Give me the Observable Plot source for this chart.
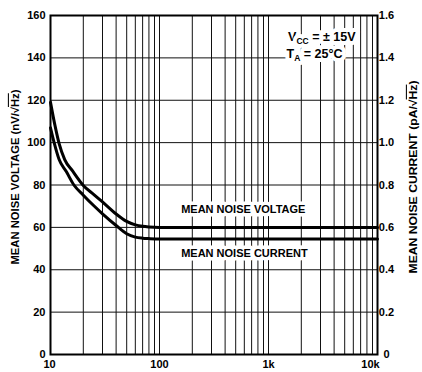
<!DOCTYPE html>
<html>
<head>
<meta charset="utf-8">
<script src="https://cdn.jsdelivr.net/npm/d3@7"></script>
<script src="https://cdn.jsdelivr.net/npm/@observablehq/plot@0.6"></script>
<style>
  html, body { margin: 0; padding: 0; background: #fff; }
</style>
</head>
<body>
<div id="chart"></div>
<script>
// Mean noise voltage (nV/√Hz) vs frequency (Hz)
const freqV = [10, 11, 12, 13.5, 16, 20, 25, 30, 40, 50, 60, 70, 80, 100, 1000, 10000];
const voltage = [119, 108, 99.5, 92, 86.5, 79.8, 75.5, 72, 66.3, 62.8, 61.2, 60.5, 60.2, 60, 60, 60];
// Mean noise current (pA/√Hz), expressed in left-axis units (x100)
const freqC = [10, 10.8, 12, 14, 16.4, 20, 25, 30, 40, 50, 60, 70, 80, 100, 1000, 10000];
const current = [107, 100, 92, 86.2, 80, 75.2, 70.2, 66.4, 60.9, 57, 55.4, 54.9, 54.7, 54.5, 54.5, 54.5];

const xGrid = [10,20,30,40,50,60,70,80,90,100,200,300,400,500,600,700,800,900,1000,2000,3000,4000,5000,6000,7000,8000,9000,10000];
const yTicks = [0,20,40,60,80,100,120,140,160];
const xLabelsMid = [100, 1000];
const xLabelText = {10: "10", 100: "100", 1000: "1k", 10000: "10k"};

const seriesLabels = [
  {f: 158, v: 68.5, text: "MEAN NOISE VOLTAGE"},
  {f: 158, v: 47.5, text: "MEAN NOISE CURRENT"}
];
const condLabels = ["VCC = ± 15V", "TA = 25°C"];
const yLabelLeft = "MEAN NOISE VOLTAGE (nV/√Hz)";
const yLabelRight = "MEAN NOISE CURRENT (pA/√Hz)";

const vData = freqV.map((f, i) => ({f, v: voltage[i]}));
const cData = freqC.map((f, i) => ({f, v: current[i]}));

const font = "Liberation Sans, Arial, Helvetica, sans-serif";

const chart = Plot.plot({
  width: 422,
  height: 372,
  marginLeft: 50,
  marginRight: 45,
  marginTop: 15,
  marginBottom: 18,
  style: {fontFamily: font, fontWeight: "bold", fontSize: "11px", background: "#fff", color: "#000"},
  x: {type: "log", domain: [10, 10000]},
  y: {domain: [0, 160]},
  marks: [
    Plot.ruleX(xGrid, {stroke: "#111", strokeWidth: 1}),
    Plot.ruleY(yTicks, {stroke: "#111", strokeWidth: 1}),
    Plot.frame({stroke: "#000", strokeWidth: 2}),
    Plot.line(vData, {x: "f", y: "v", stroke: "#000", strokeWidth: 3, curve: "monotone-x"}),
    Plot.line(cData, {x: "f", y: "v", stroke: "#000", strokeWidth: 3, curve: "monotone-x"}),
    Plot.text(seriesLabels, {x: "f", y: "v", text: "text", textAnchor: "start", fontSize: 11, fontWeight: "bold", fill: "#000", stroke: "#fff", strokeWidth: 7, paintOrder: "stroke"}),
    Plot.text([condLabels[0]], {frameAnchor: "top-right", dx: -22, dy: 17, textAnchor: "end", fontSize: 12.5, fontWeight: "bold", fill: "#000", stroke: "#fff", strokeWidth: 8, paintOrder: "stroke"}),
    Plot.text([condLabels[1]], {frameAnchor: "top-right", dx: -35, dy: 34, textAnchor: "end", fontSize: 12.5, fontWeight: "bold", fill: "#000", stroke: "#fff", strokeWidth: 8, paintOrder: "stroke"}),
    Plot.axisY(yTicks, {anchor: "left", tickSize: 0, tickPadding: 5, label: null, fontSize: 11}),
    Plot.axisY(yTicks, {anchor: "right", tickSize: 0, tickPadding: 9, textAnchor: "middle", label: null, fontSize: 11,
      tickFormat: d => d === 0 ? "0" : (d / 100).toFixed(1)}),
    Plot.axisX(xLabelsMid, {anchor: "bottom", tickSize: 0, tickPadding: 6, label: null, fontSize: 11, tickFormat: d => xLabelText[d]}),
    Plot.axisX([10], {anchor: "bottom", tickSize: 0, tickPadding: 6, label: null, fontSize: 11, dx: -1, tickFormat: d => xLabelText[d]}),
    Plot.axisX([10000], {anchor: "bottom", tickSize: 0, tickPadding: 6, label: null, fontSize: 11, dx: -7, tickFormat: d => xLabelText[d]}),
    Plot.text([yLabelLeft], {frameAnchor: "left", textAnchor: "middle", rotate: -90, dx: -35, dy: -8, fontSize: 10.5, fontWeight: "bold", fill: "#000"}),
    Plot.text([yLabelRight], {frameAnchor: "right", textAnchor: "middle", rotate: -90, dx: 36, dy: -8, fontSize: 10.5, fontWeight: "bold", fill: "#000"})
  ]
});

document.getElementById("chart").appendChild(chart);

// Rich text: subscripts and overline for √Hz
d3.select(chart).selectAll("text").each(function() {
  const t = this.textContent;
  const sel = d3.select(this);
  if (t === "VCC = ± 15V") {
    sel.text(null);
    sel.append("tspan").text("V");
    sel.append("tspan").attr("dy", 3).attr("font-size", 8.5).text("CC");
    sel.append("tspan").attr("dy", -3).text(" = ± 15V");
  } else if (t === "TA = 25°C") {
    sel.text(null);
    sel.append("tspan").text("T");
    sel.append("tspan").attr("dy", 3).attr("font-size", 8.5).text("A");
    sel.append("tspan").attr("dy", -3).text(" = 25°C");
  } else if (t === yLabelLeft || t === yLabelRight) {
    const pre = t.slice(0, t.indexOf("Hz"));
    sel.text(null);
    sel.attr("text-anchor", "middle")
       .attr("textLength", t === yLabelLeft ? 175 : 193)
       .attr("lengthAdjust", "spacingAndGlyphs");
    sel.append("tspan").text(pre);
    sel.append("tspan").attr("text-decoration", "overline").text("Hz");
    sel.append("tspan").text(")");
  }
});
</script>
</body>
</html>
